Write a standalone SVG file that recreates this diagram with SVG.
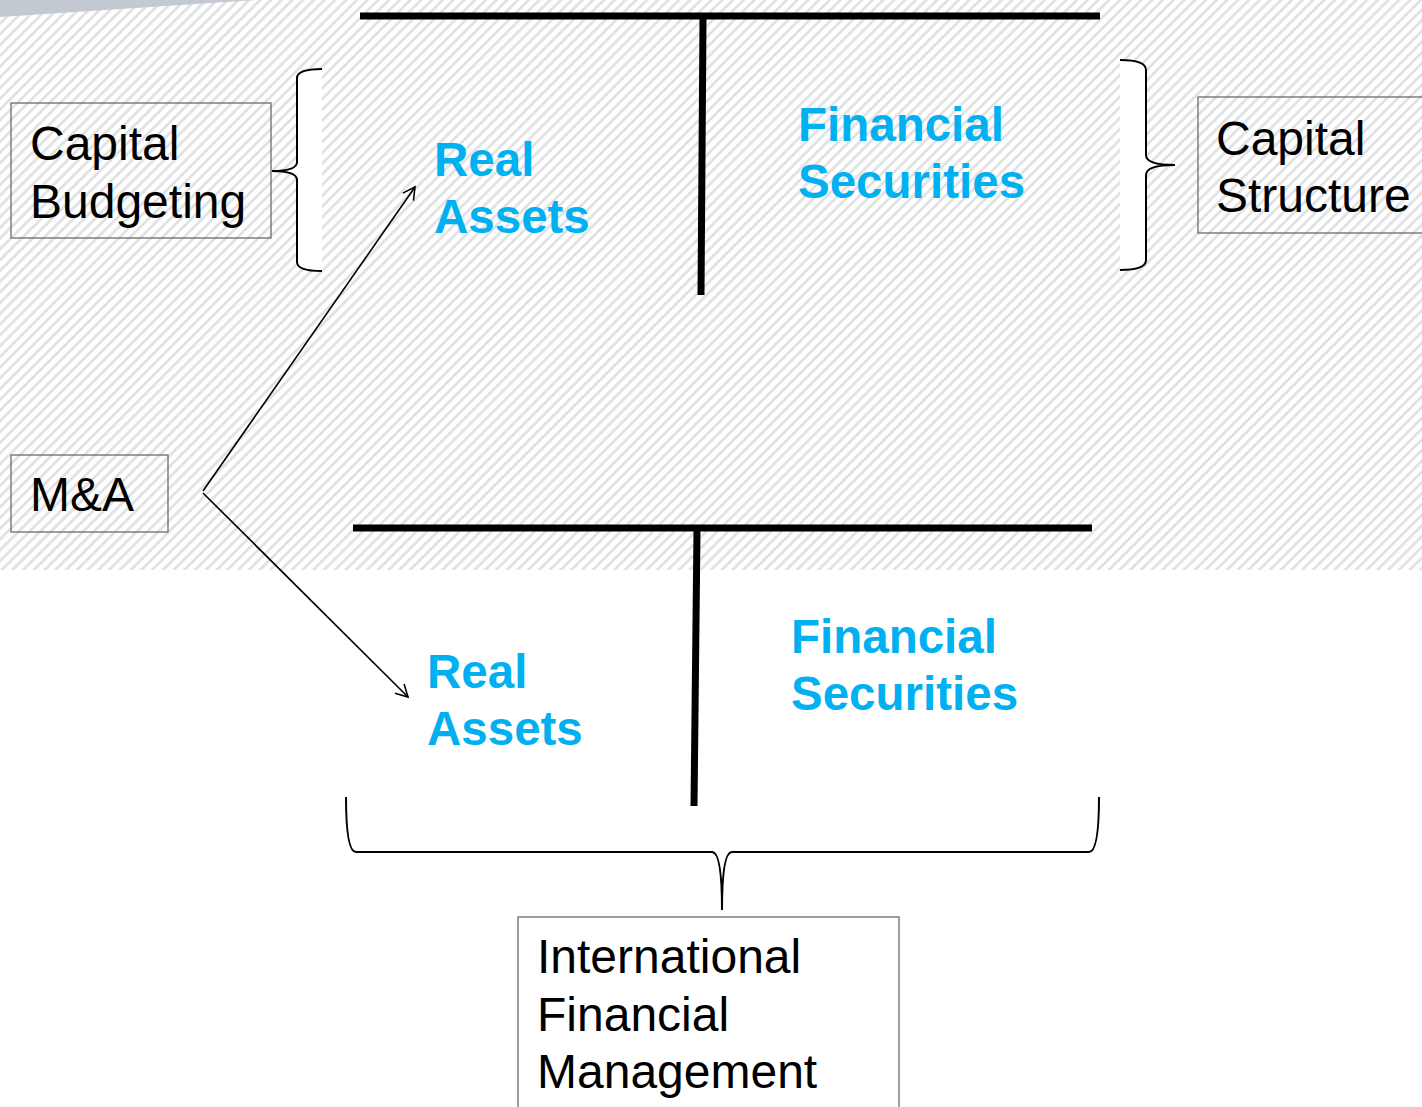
<svg xmlns="http://www.w3.org/2000/svg" width="1422" height="1107" viewBox="0 0 1422 1107">
  <style>
    .box { fill: none; stroke: #6b6b6b; stroke-width: 1.3; }
    .label { font-family: "Liberation Sans", Arial, sans-serif; font-size: 48px; fill: #000; }
    .blue { font-family: "Liberation Sans", Arial, sans-serif; font-size: 47.5px; font-weight: bold; fill: #00B0F0; }
    .bar { stroke: #000; stroke-width: 7; fill: none; }
    .brace { stroke: #000; stroke-width: 2; fill: #fff; }
    .arrow { stroke: #000; stroke-width: 1.6; fill: none; marker-end: url(#open); }
  </style>
  <defs>
    <pattern id="hatch" width="7.6" height="7.6" patternUnits="userSpaceOnUse" patternTransform="rotate(45)">
      <rect width="7.6" height="7.6" fill="#fff"/>
      <rect x="0" y="0" width="2.8" height="7.6" fill="#e1e2e3"/>
    </pattern>
    <marker id="open" markerWidth="16" markerHeight="16" refX="13" refY="8" orient="auto" markerUnits="userSpaceOnUse">
      <path d="M1,1.5 L13,8 L1,14.5" fill="none" stroke="#000" stroke-width="1.6"/>
    </marker>
  </defs>

  <!-- background -->
  <rect width="1422" height="1107" fill="#fff"/>
  <rect width="1422" height="570" fill="url(#hatch)"/>
  <polygon points="0,0 256,0 0,17" fill="#c3cad2"/>

  <!-- T-accounts -->
  <g id="t-upper">
    <line class="bar" x1="360" y1="16" x2="1100" y2="16"/>
    <line class="bar" x1="703" y1="18" x2="701" y2="295"/>
    <text class="blue" x="434" y="176">Real</text>
    <text class="blue" x="434" y="233">Assets</text>
    <text class="blue" x="798" y="141">Financial</text>
    <text class="blue" x="798" y="198">Securities</text>
  </g>
  <g id="t-lower">
    <line class="bar" x1="353" y1="528" x2="1092" y2="528"/>
    <line class="bar" x1="697" y1="530" x2="694" y2="806"/>
    <text class="blue" x="427" y="688">Real</text>
    <text class="blue" x="427" y="745">Assets</text>
    <text class="blue" x="791" y="653">Financial</text>
    <text class="blue" x="791" y="710">Securities</text>
  </g>

  <!-- braces -->
  <g id="brace-left">
    <path class="brace" d="M322,69 Q297,69 297,78 L297,162 Q297,171 272,171 Q297,171 297,180 L297,262 Q297,271 322,271"/>
  </g>
  <g id="brace-right">
    <path class="brace" d="M1120,60 Q1146,60 1146,70 L1146,155 Q1146,165 1175,165 Q1146,165 1146,175 L1146,260 Q1146,270 1120,270"/>
  </g>
  <g id="brace-bottom">
    <path d="M346,797 Q346,852 356,852 L712,852 Q722,852 722,910 Q722,852 732,852 L1089,852 Q1099,852 1099,797" fill="none" stroke="#000" stroke-width="2"/>
  </g>

  <!-- labelled boxes -->
  <g id="capital-budgeting">
    <rect class="box" x="11" y="103" width="260" height="135"/>
    <text class="label" x="30" y="160">Capital</text>
    <text class="label" x="30" y="218">Budgeting</text>
  </g>
  <g id="capital-structure">
    <rect class="box" x="1198" y="97" width="240" height="136"/>
    <text class="label" x="1216" y="155">Capital</text>
    <text class="label" x="1216" y="212">Structure</text>
  </g>
  <g id="m-and-a">
    <rect class="box" x="11" y="455" width="157" height="77"/>
    <text class="label" x="30" y="511">M&amp;A</text>
  </g>
  <g id="ifm">
    <rect class="box" x="518" y="917" width="381" height="200"/>
    <text class="label" x="537" y="973">International</text>
    <text class="label" x="537" y="1031">Financial</text>
    <text class="label" x="537" y="1088">Management</text>
  </g>

  <!-- connectors -->
  <g id="connectors">
    <line class="arrow" x1="203" y1="491" x2="415" y2="187"/>
    <line class="arrow" x1="203" y1="493" x2="408" y2="697"/>
  </g>
</svg>
